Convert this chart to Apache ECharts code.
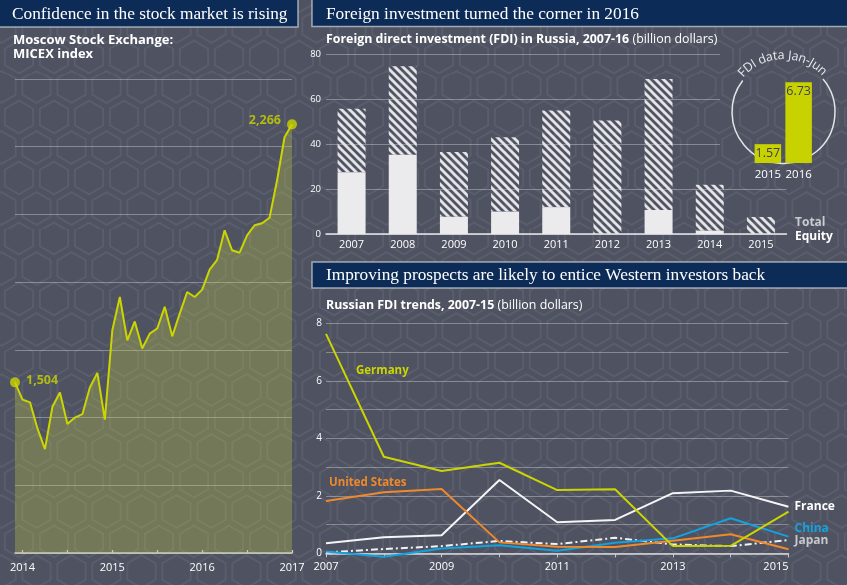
<!DOCTYPE html>
<html>
<head>
<meta charset="utf-8">
<title>Russia: markets and foreign investment</title>
<script src="https://cdn.jsdelivr.net/npm/echarts@6.0.0/dist/echarts.min.js"></script>
<style>
html,body{margin:0;padding:0;width:847px;height:585px;overflow:hidden;background-color:#4e5261;}
#chart{width:847px;height:585px;}
</style>
</head>
<body>
<div id="chart"></div>
<script>
// ---------------- DATA ----------------
// MICEX index, monthly
const micexDates = ['2013-12',
  '2014-01','2014-02','2014-03','2014-04','2014-05','2014-06','2014-07','2014-08','2014-09','2014-10','2014-11','2014-12',
  '2015-01','2015-02','2015-03','2015-04','2015-05','2015-06','2015-07','2015-08','2015-09','2015-10','2015-11','2015-12',
  '2016-01','2016-02','2016-03','2016-04','2016-05','2016-06','2016-07','2016-08','2016-09','2016-10','2016-11','2016-12',
  '2017-01'];
const micexValues = [1504,
  1453,1445,1368,1307,1432,1474,1381,1400,1410,1489,1532,1394,
  1658,1756,1628,1684,1604,1648,1663,1727,1640,1707,1771,1756,
  1778,1837,1866,1953,1894,1887,1938,1968,1974,1990,2100,2228,
  2266];
const micexYearTicks = ['2014','2015','2016','2017'];

// FDI in Russia (billion dollars)
const fdiYears  = ['2007','2008','2009','2010','2011','2012','2013','2014','2015'];
const fdiTotal  = [55.9, 74.8, 36.6, 43.2, 55.1, 50.6, 69.2, 22.0, 7.6];
const fdiEquity = [27.5, 35.4, 7.7, 10.0, 12.0, 0, 10.7, 1.5, 0];

// FDI data Jan-Jun
const h1Years  = ['2015','2016'];
const h1Values = [1.57, 6.73];

// Russian FDI trends by country (billion dollars)
const trendYears = ['2007','2008','2009','2010','2011','2012','2013','2014','2015'];
const germany = [7.63, 3.36, 2.86, 3.15, 2.20, 2.23, 0.25, 0.26, 1.45];
const usa     = [1.82, 2.12, 2.24, 0.38, 0.23, 0.22, 0.44, 0.66, 0.14];
const france  = [0.35, 0.56, 0.63, 2.55, 1.08, 1.16, 2.09, 2.18, 1.62];
const china   = [0.06, -0.12, 0.17, 0.28, 0.09, 0.37, 0.52, 1.22, 0.58];
const japan   = [0.03, 0.15, 0.25, 0.43, 0.32, 0.54, 0.31, 0.25, 0.46];

// ---------------- STYLE ----------------
const SERIF = '"Liberation Serif", "DejaVu Serif", serif';
const SANS = '"Open Sans", "Noto Sans", sans-serif';
const LIME = '#cbd500';
const ORANGE = '#f0892b';
const BLUE = '#14a2de';
const NAVY = '#0c2c57';
const GRID = 'rgba(255,255,255,0.32)';

// hexagon background
(function(){
  const W = 35, H = 35*Math.sqrt(3), R = 16.3;
  const hex = (cx,cy) => {
    const p = [];
    for (let i=0;i<6;i++){ const a = Math.PI/180*(60*i-90); p.push((cx+R*Math.cos(a)).toFixed(2)+','+(cy+R*Math.sin(a)).toFixed(2)); }
    return '<polygon points="'+p.join(' ')+'"/>';
  };
  const centers = [[0,0],[W,0],[W/2,H/2],[0,H],[W,H]];
  const svg = '<svg xmlns="http://www.w3.org/2000/svg" width="'+W+'" height="'+H.toFixed(3)+'" viewBox="0 0 '+W+' '+H.toFixed(3)+'"><g fill="none" stroke="#ffffff" stroke-opacity="0.065" stroke-width="1.8">'+centers.map(c=>hex(c[0],c[1])).join('')+'</g></svg>';
  document.body.style.backgroundImage = 'url("data:image/svg+xml,'+encodeURIComponent(svg)+'")';
  document.body.style.backgroundSize = W+'px '+H.toFixed(3)+'px';
  document.body.style.backgroundPosition = '19px -4px';
})();

// stripe pattern for the non-equity part of bars
const stripe = document.createElement('canvas');
stripe.width = 8; stripe.height = 8;
(function(){
  const g = stripe.getContext('2d');
  g.strokeStyle = '#e4e4e7'; g.lineWidth = 2.9; g.lineCap = 'square';
  for (let k=-8;k<=8;k+=8){ g.beginPath(); g.moveTo(k-2,-2); g.lineTo(k+10,10); g.stroke(); }
})();

// ---------------- BUILD ----------------
const micexPoints = micexDates.map((d,i)=>{
  const [y,m] = d.split('-').map(Number);
  return [(y-2014)*12+(m-1), micexValues[i]];
});
const endLabelStyle = {show:true, color:LIME, fontFamily:SANS, fontWeight:'bold', fontSize:12.5, distance:6,
  formatter:p=>p.value[1].toLocaleString('en-US')};
const micexEnds = [
  {value:micexPoints[0], label:Object.assign({position:'right', offset:[0,-2]}, endLabelStyle)},
  {value:micexPoints[micexPoints.length-1], label:Object.assign({position:'left', offset:[0,-4]}, endLabelStyle)}
];

function txt(x, y, text, font, fill, extra){
  return Object.assign({type:'text', x:x, y:y, silent:true,
    style:{text:text, font:font, fill:fill, textVerticalAlign:'middle', verticalAlign:'middle', textAlign:'left', align:'left'}}, extra||{});
}

// curved "FDI data Jan-Jun" text
const ring = {cx:783.5, cy:112, r:51.5};
const arcLabel = 'FDI data Jan-Jun';
const arcFont = '12.5px ' + SANS;
const arcEls = [];
let gapStart, gapEnd;
(function(){
  const c = document.createElement('canvas').getContext('2d');
  c.font = arcFont;
  const chars = Array.from(arcLabel);
  const ws = chars.map(ch => c.measureText(ch).width + 0.2);
  const total = ws.reduce((a,b)=>a+b,0);
  const Rt = ring.r + 5;
  const mid = Math.PI/2 + 0.02;
  const a0 = mid + total/2/Rt;
  let cum = 0;
  chars.forEach((ch,i)=>{
    const a = a0 - (cum + ws[i]/2)/Rt;
    cum += ws[i];
    arcEls.push({type:'text', silent:true,
      x: ring.cx + Rt*Math.cos(a), y: ring.cy - Rt*Math.sin(a), rotation: a - Math.PI/2,
      style:{text:ch, font:arcFont, fill:'#e8e8ec', textAlign:'center', align:'center', textVerticalAlign:'middle', verticalAlign:'middle'}});
  });
  gapStart = a0 + 0.05; gapEnd = a0 - total/Rt - 0.05;
})();

const graphics = [
  {type:'rect', silent:true, shape:{x:-2, y:-2, width:300, height:29}, style:{fill:NAVY, stroke:'rgba(200,204,214,0.75)', lineWidth:1.5}},
  {type:'rect', silent:true, shape:{x:312, y:-2, width:540, height:28.5}, style:{fill:NAVY, stroke:'rgba(200,204,214,0.75)', lineWidth:1.5}},
  {type:'rect', silent:true, shape:{x:312, y:262, width:540, height:26}, style:{fill:NAVY, stroke:'rgba(200,204,214,0.75)', lineWidth:1.5}},
  txt(12, 14.5, 'Confidence in the stock market is rising', '17.3px '+SERIF, '#ffffff'),
  txt(326, 14, 'Foreign investment turned the corner in 2016', '17.3px '+SERIF, '#ffffff'),
  txt(326, 275.5, 'Improving prospects are likely to entice Western investors back', '17.3px '+SERIF, '#ffffff'),
  txt(13, 40.5, 'Moscow Stock Exchange:', 'bold 13px '+SANS, '#ffffff'),
  txt(13, 54, 'MICEX index', 'bold 13px '+SANS, '#ffffff'),
  {type:'text', x:326, y:39.5, silent:true, style:{text:'{b|Foreign direct investment (FDI) in Russia, 2007-16} {n|(billion dollars)}', textVerticalAlign:'middle', verticalAlign:'middle',
    rich:{b:{font:'bold 12.4px '+SANS, fill:'#ffffff'}, n:{font:'12.4px '+SANS, fill:'#ffffff'}}}},
  {type:'text', x:326, y:305.5, silent:true, style:{text:'{b|Russian FDI trends, 2007-15} {n|(billion dollars)}', textVerticalAlign:'middle', verticalAlign:'middle',
    rich:{b:{font:'bold 12.4px '+SANS, fill:'#ffffff'}, n:{font:'12.4px '+SANS, fill:'#ffffff'}}}},
  txt(795, 222.5, 'Total', 'bold 12px '+SANS, '#c9cbd1'),
  txt(795, 236.7, 'Equity', 'bold 12px '+SANS, '#ffffff'),
  txt(356, 371, 'Germany', 'bold 11.5px '+SANS, LIME),
  txt(329, 483, 'United States', 'bold 11.5px '+SANS, ORANGE),
  {type:'arc', silent:true, shape:{cx:ring.cx, cy:ring.cy, r:ring.r, startAngle:-gapEnd, endAngle:2*Math.PI-gapStart, clockwise:true},
    style:{stroke:'#e2e3e7', lineWidth:1.5, fill:null}}
].concat(arcEls);

const axisText = {color:'#ffffff', fontFamily:SANS};
const hidden = {show:false};

const option = {
  animation:false,
  backgroundColor:'transparent',
  graphic: graphics,
  grid:[
    {left:15, top:79, width:277, height:474, outerBoundsMode:'none'},          // 0 MICEX
    {left:326, top:54.7, width:460.5, height:179.3, outerBoundsMode:'none'},   // 1 FDI bars
    {left:326, top:54.7, width:394, height:90, outerBoundsMode:'none'},        // 2 helper gridlines 40-80
    {left:326, top:189.35, width:460.5, height:44.65, outerBoundsMode:'none'}, // 3 helper gridline 20
    {left:752.5, top:79, width:61.5, height:84, outerBoundsMode:'none'},       // 4 inset Jan-Jun
    {left:326, top:323.3, width:462.5, height:230, outerBoundsMode:'none'}     // 5 country trends
  ],
  xAxis:[
    {gridIndex:0, type:'value', min:-1, max:36,
      axisLine:{show:true, lineStyle:{color:'#cfd1d6', width:1.5}},
      axisTick:{show:true, inside:true, length:3, customValues:[0,6,12,18,24,30,36], lineStyle:{color:'#cfd1d6', width:1.2}},
      axisLabel:Object.assign({fontSize:11, margin:9, customValues:[0,12,24,36], formatter:v=>micexYearTicks[Math.round(v/12)]}, axisText),
      splitLine:hidden},
    {gridIndex:1, type:'category', data:fdiYears,
      axisLine:{show:true, lineStyle:{color:'#e6e6ea', width:1.5}}, axisTick:hidden,
      axisLabel:Object.assign({fontSize:11, margin:5, interval:0}, axisText), splitLine:hidden},
    {gridIndex:2, type:'value', min:0, max:1, show:false},
    {gridIndex:3, type:'value', min:0, max:1, show:false},
    {gridIndex:4, type:'category', data:h1Years, axisLine:hidden, axisTick:hidden,
      axisLabel:Object.assign({fontSize:11.5, margin:6, interval:0, hideOverlap:false}, axisText)},
    {gridIndex:5, type:'category', data:trendYears, boundaryGap:false,
      axisLine:{show:true, lineStyle:{color:'#d8d9dd', width:1.5}},
      axisTick:{show:true, interval:0, length:4, lineStyle:{color:'#c8cad0'}},
      axisLabel:Object.assign({fontSize:11, margin:8, interval:1, alignMaxLabel:'right'}, axisText),
      splitLine:hidden}
  ],
  yAxis:[
    {gridIndex:0, type:'value', min:1000, max:2400, interval:200, axisLine:hidden, axisTick:hidden, axisLabel:hidden,
      splitLine:{show:true, lineStyle:{color:GRID, width:1}}},
    {gridIndex:1, type:'value', min:0, max:80, interval:20, axisLine:hidden, axisTick:hidden,
      axisLabel:Object.assign({fontSize:9.5, margin:5}, axisText), splitLine:hidden},
    {gridIndex:2, type:'value', min:40, max:80, interval:20, axisLine:hidden, axisTick:hidden, axisLabel:hidden,
      splitLine:{show:true, lineStyle:{color:GRID, width:1}}},
    {gridIndex:3, type:'value', min:0, max:20, interval:20, axisLine:hidden, axisTick:hidden, axisLabel:hidden,
      splitLine:{show:true, lineStyle:{color:GRID, width:1}}},
    {gridIndex:4, type:'value', min:0, max:7, show:false},
    {gridIndex:5, type:'value', min:0, max:8, interval:1, axisLine:hidden, axisTick:hidden,
      axisLabel:Object.assign({fontSize:10, margin:4, formatter:v=>(v%2===0?String(v):'')}, axisText),
      splitLine:{show:true, lineStyle:{color:GRID, width:1}}}
  ],
  series:[
    {type:'line', name:'MICEX', xAxisIndex:0, yAxisIndex:0, data:micexPoints, symbol:'none',
      lineStyle:{color:LIME, width:2}, areaStyle:{color:'rgba(196,202,72,0.45)', origin:'start'}, z:3},
    {type:'scatter', name:'MICEX ends', xAxisIndex:0, yAxisIndex:0, data:micexEnds, symbolSize:10,
      itemStyle:{color:LIME}, z:5},
    {type:'line', xAxisIndex:2, yAxisIndex:2, data:[], silent:true},
    {type:'line', xAxisIndex:3, yAxisIndex:3, data:[], silent:true},
    {type:'bar', name:'Equity', xAxisIndex:1, yAxisIndex:1, stack:'fdi', data:fdiEquity, barWidth:28,
      itemStyle:{color:'#ebebee'}, z:2},
    {type:'bar', name:'Total', xAxisIndex:1, yAxisIndex:1, stack:'fdi',
      data:fdiTotal.map((t,i)=>+(t-fdiEquity[i]).toFixed(2)), barWidth:28,
      itemStyle:{color:{image:stripe, repeat:'repeat'}}, z:2},
    {type:'bar', name:'Jan-Jun', xAxisIndex:4, yAxisIndex:4, data:h1Values, barWidth:26.5,
      itemStyle:{color:'#c8d200'},
      label:{show:true, position:'insideTop', distance:3, color:'#3c4151', fontFamily:SANS, fontSize:12.5,
        formatter:p=>p.value.toFixed(2)}, z:3},
    {type:'line', name:'France', xAxisIndex:5, yAxisIndex:5, data:france, symbol:'none',
      lineStyle:{color:'#f5f5f7', width:2}, itemStyle:{color:'#f5f5f7'},
      endLabel:{show:true, formatter:'France', color:'#ffffff', fontFamily:SANS, fontWeight:'bold', fontSize:12, distance:6}},
    {type:'line', name:'Japan', xAxisIndex:5, yAxisIndex:5, data:japan, symbol:'none',
      lineStyle:{color:'#f2f2f4', width:2, type:[7,3,2,3]}, itemStyle:{color:'#f2f2f4'},
      endLabel:{show:true, formatter:'Japan', color:'#c6c8ce', fontFamily:SANS, fontWeight:'bold', fontSize:12, distance:6, offset:[0,1]}},
    {type:'line', name:'China', xAxisIndex:5, yAxisIndex:5, data:china, symbol:'none', clip:false,
      lineStyle:{color:BLUE, width:2}, itemStyle:{color:BLUE},
      endLabel:{show:true, formatter:'China', color:BLUE, fontFamily:SANS, fontWeight:'bold', fontSize:12, distance:6, offset:[0,-8]}},
    {type:'line', name:'United States', xAxisIndex:5, yAxisIndex:5, data:usa, symbol:'none',
      lineStyle:{color:ORANGE, width:2}, itemStyle:{color:ORANGE}},
    {type:'line', name:'Germany', xAxisIndex:5, yAxisIndex:5, data:germany, symbol:'none',
      lineStyle:{color:LIME, width:2}, itemStyle:{color:LIME}}
  ]
};

const chart = echarts.init(document.getElementById('chart'), null, {renderer:'canvas', width:847, height:585});
chart.setOption(option);
</script>
</body>
</html>
